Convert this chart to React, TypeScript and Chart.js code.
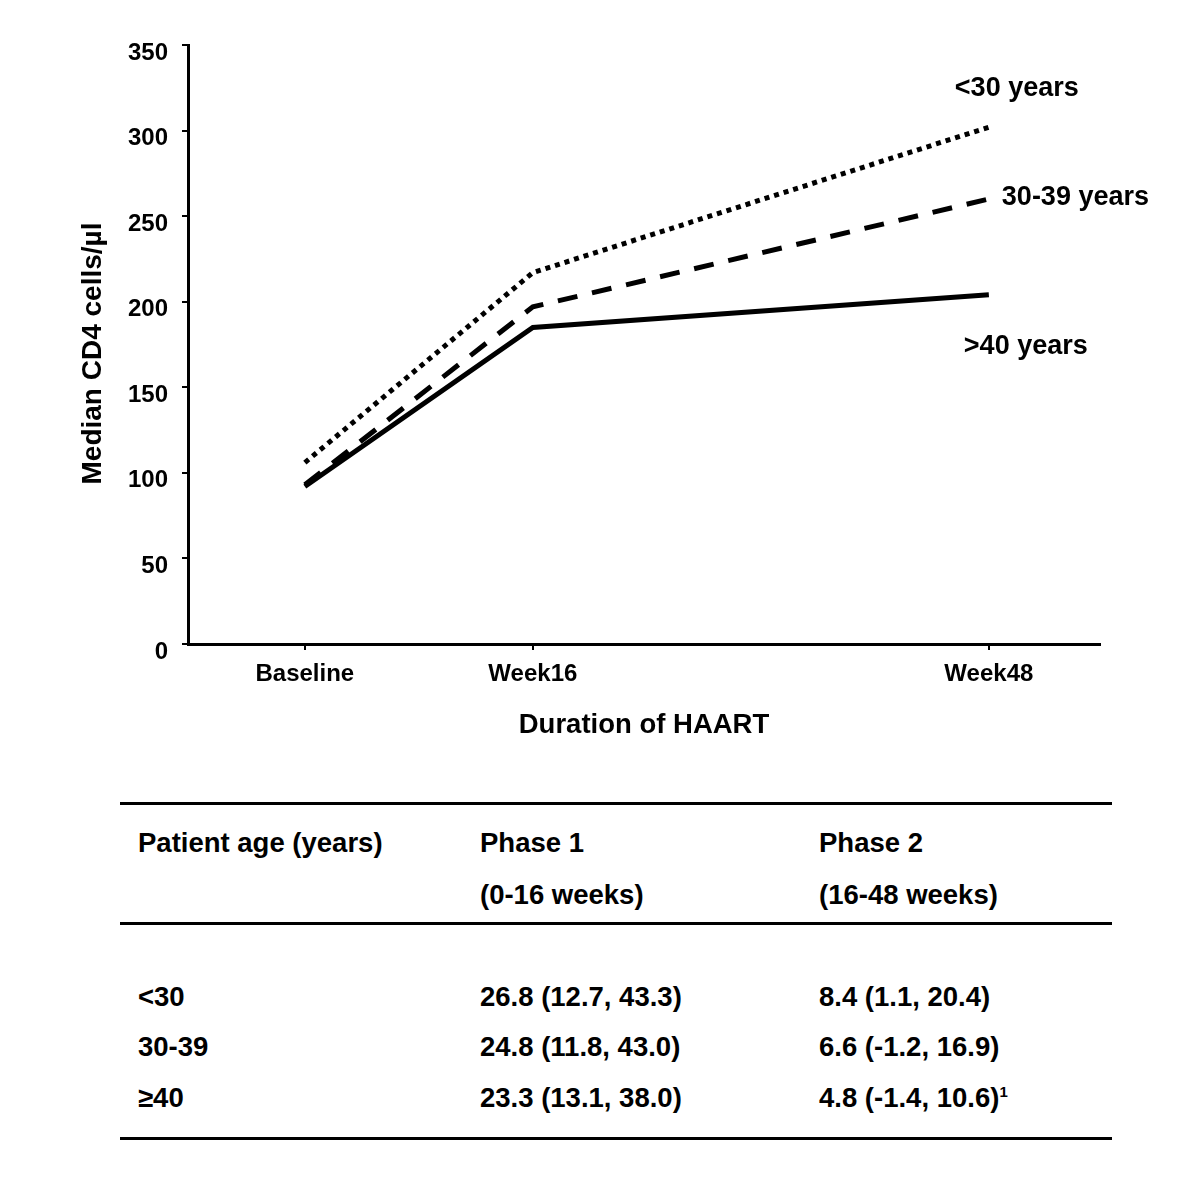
import React, { useEffect, useRef } from 'react';
import { Chart, registerables } from 'chart.js';

Chart.register(...registerables);

// ---------- data ----------
const weeks = [0, 16, 48];
const weekLabels = ['Baseline', 'Week16', 'Week48'];
const yTicks = [0, 50, 100, 150, 200, 250, 300, 350];
const under30 = [106, 217, 302];
const age30to39 = [93, 197, 260];
const over40 = [92, 185, 204];
const seriesNames = ['<30 years', '30-39 years', '>40 years'];
const yTitle = 'Median CD4 cells/µl';
const xTitle = 'Duration of HAART';

const tableHeader = ['Patient age (years)', 'Phase 1', 'Phase 2'];
const tableSubHeader = ['', '(0-16 weeks)', '(16-48 weeks)'];
const ageGroups = ['<30', '30-39', '≥40'];
const phase1 = ['26.8 (12.7, 43.3)', '24.8 (11.8, 43.0)', '23.3 (13.1, 38.0)'];
const phase2 = ['8.4 (1.1, 20.4)', '6.6 (-1.2, 16.9)', '4.8 (-1.4, 10.6)'];
const phase2Notes = ['', '', '1'];

// ---------- styles ----------
const FONT = '"Liberation Sans", Arial, Helvetica, sans-serif';
const dashes = [[5, 5], [20, 15], []];
const labelOffsets = [
  { dx: -34, dy: -39 },
  { dx: 13, dy: -1 },
  { dx: -25, dy: 52 },
];

const endLabelPlugin = {
  id: 'endLabels',
  afterDatasetsDraw(chart: any) {
    const ctx = chart.ctx;
    ctx.save();
    ctx.fillStyle = '#000';
    ctx.font = `bold 27px ${FONT}`;
    ctx.textAlign = 'left';
    ctx.textBaseline = 'middle';
    chart.data.datasets.forEach((ds: any, i: number) => {
      const meta = chart.getDatasetMeta(i);
      const pt = meta.data[meta.data.length - 1];
      const off = labelOffsets[i];
      ctx.fillText(ds.label, pt.x + off.dx, pt.y + off.dy);
    });
    ctx.restore();
  },
};

const yTitlePlugin = {
  id: 'yTitle',
  afterDraw(chart: any) {
    const ctx = chart.ctx;
    const ys = chart.scales.y;
    ctx.save();
    ctx.fillStyle = '#000';
    ctx.font = `bold 28px ${FONT}`;
    ctx.textAlign = 'center';
    ctx.textBaseline = 'middle';
    ctx.translate(93, (ys.top + ys.bottom) / 2 + 9);
    ctx.rotate(-Math.PI / 2);
    ctx.fillText(yTitle, 0, 0);
    ctx.restore();
  },
};

function ChartPart() {
  const ref = useRef<HTMLCanvasElement | null>(null);
  useEffect(() => {
    if (!ref.current) return;
    const toPts = (vals: number[]) => weeks.map((w, i) => ({ x: w, y: vals[i] }));
    const series = [under30, age30to39, over40];
    const chart = new Chart(ref.current, {
      type: 'line',
      data: {
        datasets: series.map((vals, i) => ({
          label: seriesNames[i],
          data: toPts(vals),
          borderColor: '#000',
          backgroundColor: '#000',
          borderWidth: 5,
          borderDash: dashes[i],
          borderCapStyle: 'butt',
          borderJoinStyle: 'miter',
          pointRadius: 0,
          fill: false,
          tension: 0,
        })),
      },
      options: {
        animation: false,
        responsive: false,
        devicePixelRatio: 1,
        layout: { padding: { left: 0, top: 45, right: 100, bottom: 0 } },
        plugins: { legend: { display: false }, tooltip: { enabled: false } },
        scales: {
          x: {
            type: 'linear',
            min: -8.2,
            max: 55.8,
            afterBuildTicks: (s: any) => {
              s.ticks = weeks.map((v) => ({ value: v }));
            },
            afterFit: (s: any) => {
              s.height = 116;
            },
            ticks: {
              callback: (v: any) => {
                const k = weeks.indexOf(Number(v));
                return k >= 0 ? weekLabels[k] : '';
              },
              autoSkip: false,
              maxRotation: 0,
              padding: 10,
              color: '#000',
              font: { family: FONT, size: 24, weight: 'bold' },
            },
            grid: { drawOnChartArea: false, tickLength: 6, color: '#000', lineWidth: 2 },
            border: { color: '#000', width: 3 },
            title: {
              display: true,
              text: xTitle,
              color: '#000',
              font: { family: FONT, size: 27.5, weight: 'bold' },
              padding: { top: 0, bottom: 18 },
            },
          },
          y: {
            min: 0,
            max: 350,
            afterBuildTicks: (s: any) => {
              s.ticks = yTicks.map((v) => ({ value: v }));
            },
            afterFit: (s: any) => {
              s.width = 188;
            },
            ticks: {
              padding: 14,
              labelOffset: 8,
              color: '#000',
              font: { family: FONT, size: 24, weight: 'bold' },
            },
            grid: { drawOnChartArea: false, tickLength: 6, color: '#000', lineWidth: 2 },
            border: { color: '#000', width: 3 },
            title: { display: false },
          },
        },
      } as any,
      plugins: [endLabelPlugin, yTitlePlugin],
    });
    return () => chart.destroy();
  }, []);
  return (
    <canvas
      ref={ref}
      width={1200}
      height={760}
      style={{ position: 'absolute', left: 0, top: 0, width: 1200, height: 760 }}
    />
  );
}

const colX = [138, 480, 819];
const textStyle = (x: number, capCenter: number): React.CSSProperties => ({
  position: 'absolute',
  left: x,
  top: capCenter - 15.8,
  fontFamily: FONT,
  fontWeight: 'bold',
  fontSize: 27.5,
  lineHeight: '32px',
  color: '#000',
  whiteSpace: 'nowrap',
});
const rule = (y: number): React.CSSProperties => ({
  position: 'absolute',
  left: 120,
  width: 992,
  top: y - 1.5,
  height: 3,
  background: '#000',
});

export default function App() {
  const rowY = [997, 1047, 1098];
  return (
    <div style={{ position: 'absolute', left: 0, top: 0, width: 1200, height: 1186, background: '#fff', overflow: 'hidden' }}>
      <ChartPart />
      <div style={rule(803)} />
      {tableHeader.map((t, i) => (
        <div key={'h' + i} style={textStyle(colX[i], 843)}>{t}</div>
      ))}
      {tableSubHeader.map((t, i) => (t ? <div key={'s' + i} style={textStyle(colX[i], 895)}>{t}</div> : null))}
      <div style={rule(923)} />
      {ageGroups.map((g, r) => (
        <React.Fragment key={'r' + r}>
          <div style={textStyle(colX[0], rowY[r])}>{g}</div>
          <div style={textStyle(colX[1], rowY[r])}>{phase1[r]}</div>
          <div style={textStyle(colX[2], rowY[r])}>
            {phase2[r]}
            {phase2Notes[r] ? <sup style={{ fontSize: 15, verticalAlign: 'top', lineHeight: '20px' }}>{phase2Notes[r]}</sup> : null}
          </div>
        </React.Fragment>
      ))}
      <div style={rule(1138)} />
    </div>
  );
}
